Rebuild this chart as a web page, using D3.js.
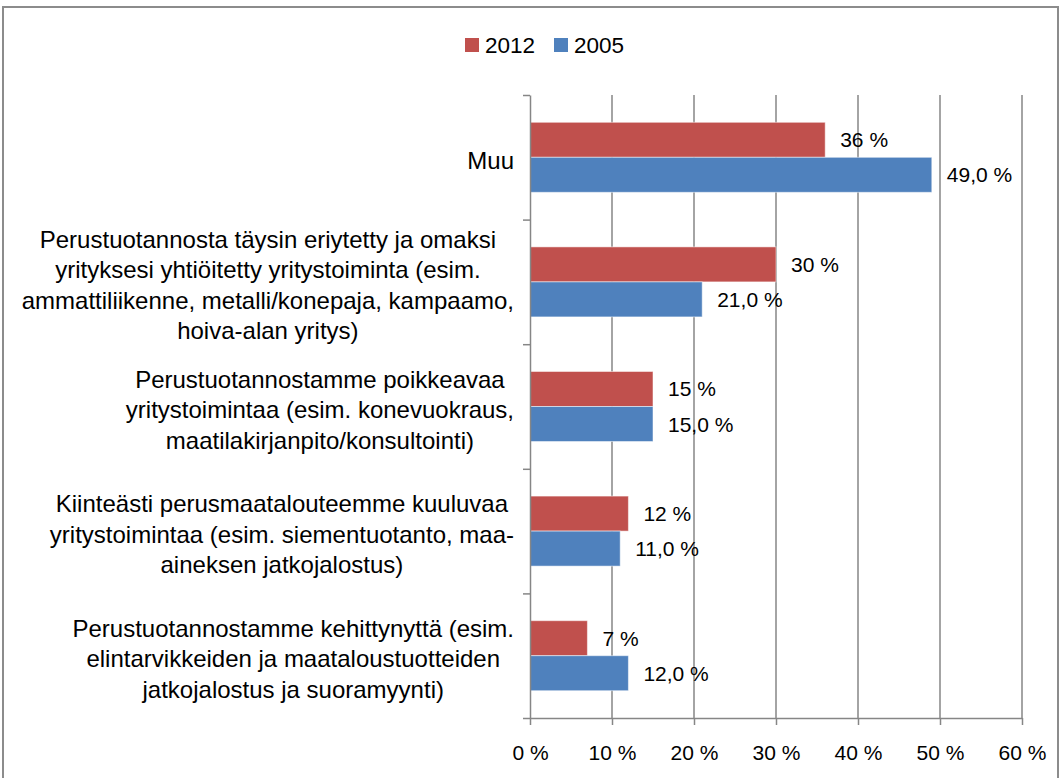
<!DOCTYPE html>
<html>
<head>
<meta charset="utf-8">
<script src="https://cdn.jsdelivr.net/npm/d3@7"></script>
<style>
  body { margin: 0; background: #fff; }
  text { font-family: "Liberation Sans", Arial, sans-serif; fill: #000; }
</style>
</head>
<body>
<div id="vis-container"></div>
<script>
// categories (top to bottom), each one as lines of the wrapped label
const categories = [
  ["Muu"],
  ["Perustuotannosta täysin eriytetty ja omaksi", "yrityksesi yhtiöitetty yritystoiminta (esim.", "ammattiliikenne, metalli/konepaja, kampaamo,", "hoiva-alan yritys)"],
  ["Perustuotannostamme poikkeavaa", "yritystoimintaa (esim. konevuokraus,", "maatilakirjanpito/konsultointi)"],
  ["Kiinteästi perusmaatalouteemme kuuluvaa", "yritystoimintaa (esim. siementuotanto, maa-", "aineksen jatkojalostus)"],
  ["Perustuotannostamme kehittynyttä (esim.", "elintarvikkeiden ja maataloustuotteiden", "jatkojalostus ja suoramyynti)"]
];
const seriesNames = ["2012", "2005"];
const values2012 = [36, 30, 15, 12, 7];
const values2005 = [49.0, 21.0, 15.0, 11.0, 12.0];
const xTicks = [0, 10, 20, 30, 40, 50, 60];

const colors = { "2012": "#C0504D", "2005": "#4F81BD" };

let width = 1061;
let height = 778;
let svg = d3.select("#vis-container").append("svg").attr("width", width).attr("height", height);

// outer chart frame
svg.append("rect").attr("x", 3).attr("y", 7).attr("width", 1055).attr("height", 790)
    .attr("fill", "#fff").attr("stroke", "#8c8c8c").attr("stroke-width", 2);

let plot = { left: 530, right: 1022, top: 95, bottom: 718 };

let xScale = d3.scaleLinear().domain([0, 60]).range([plot.left, plot.right]);
let catIdx = d3.range(categories.length);
let yScale = d3.scaleBand().domain(catIdx).range([plot.top, plot.bottom])
    .paddingInner(0.438).paddingOuter(0.219);
let ySub = d3.scaleBand().domain(seriesNames).range([0, yScale.bandwidth()]);

// gridlines
svg.append("g").selectAll("line").data(xTicks.slice(1)).enter().append("line")
    .attr("x1", d => xScale(d)).attr("x2", d => xScale(d))
    .attr("y1", plot.top).attr("y2", plot.bottom)
    .attr("stroke", "#868686").attr("stroke-width", 1.5);

// bars
let rows = catIdx.map(i => ({ i: i, "2012": values2012[i], "2005": values2005[i] }));
let fmt = { "2012": d => d + " %", "2005": d => d.toFixed(1).replace(".", ",") + " %" };

seriesNames.forEach(s => {
  let g = svg.append("g");
  g.selectAll("rect").data(rows).enter().append("rect")
    .attr("x", xScale(0))
    .attr("y", d => yScale(d.i) + ySub(s))
    .attr("width", d => xScale(d[s]) - xScale(0))
    .attr("height", ySub.bandwidth())
    .attr("fill", colors[s])
    .attr("stroke", "rgba(255,255,255,0.5)").attr("stroke-width", 1);
  g.selectAll("text").data(rows).enter().append("text")
    .attr("x", d => xScale(d[s]) + 15)
    .attr("y", d => yScale(d.i) + ySub(s) + ySub.bandwidth() / 2)
    .attr("dominant-baseline", "central")
    .style("font-size", "21px")
    .text(d => fmt[s](d[s]));
});

// left axis with ticks between categories
let boundScale = d3.scaleLinear().domain([0, categories.length]).range([plot.top, plot.bottom]);
let yAxisG = svg.append("g").attr("transform", "translate(" + plot.left + ",0)")
    .call(d3.axisLeft(boundScale).ticks(categories.length).tickFormat("").tickSize(7).tickSizeOuter(0));
yAxisG.select(".domain").attr("stroke", "#868686").attr("stroke-width", 1.5);
yAxisG.selectAll(".tick line").attr("stroke", "#868686").attr("stroke-width", 1.5);

// bottom axis
let xAxisG = svg.append("g").attr("transform", "translate(0," + plot.bottom + ")")
    .call(d3.axisBottom(xScale).tickValues(xTicks).tickFormat(d => d + " %").tickSize(7).tickSizeOuter(0));
xAxisG.select(".domain").attr("stroke", "#868686").attr("stroke-width", 1.5);
xAxisG.selectAll(".tick line").attr("stroke", "#868686").attr("stroke-width", 1.5);
xAxisG.selectAll(".tick text").attr("y", 0).attr("dy", null)
    .attr("transform", "translate(0,42)")
    .style("font-size", "21px").style("font-family", "Liberation Sans, Arial, sans-serif").attr("fill", "#000");

// category labels: lines centered inside the block, block right-aligned
let lineH = 30.5;
categories.forEach((lines, i) => {
  let cy = yScale(i) + yScale.bandwidth() / 2 + 3;
  let g = svg.append("g");
  let t = g.selectAll("text").data(lines).enter().append("text")
    .attr("y", (d, k) => cy + (k - (lines.length - 1) / 2) * lineH)
    .attr("dominant-baseline", "central")
    .attr("text-anchor", "middle")
    .style("font-size", "24px")
    .text(d => d);
  let maxW = d3.max(t.nodes(), n => n.getComputedTextLength());
  t.attr("x", 514 - maxW / 2);
});

// legend
let legend = svg.append("g");
let legendX = [465, 554];
seriesNames.forEach((s, k) => {
  legend.append("rect").attr("x", legendX[k]).attr("y", 38).attr("width", 14).attr("height", 14).attr("fill", colors[s]);
  legend.append("text").attr("x", legendX[k] + 20).attr("y", 45).attr("dominant-baseline", "central")
    .style("font-size", "22.5px").text(s);
});
</script>
</body>
</html>
